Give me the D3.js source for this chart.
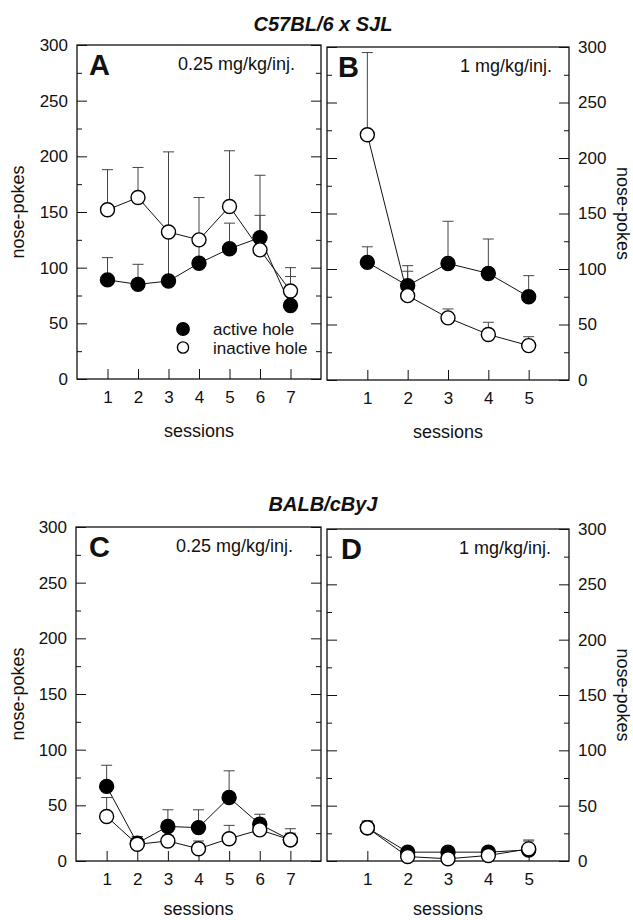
<!DOCTYPE html>
<html>
<head>
<meta charset="utf-8">
<script src="https://cdn.jsdelivr.net/npm/d3@7"></script>
<style>
  html, body { margin: 0; padding: 0; background: #fff; }
  svg { display: block; }
  text { font-family: "Liberation Sans", Arial, Helvetica, sans-serif; fill: #111; }
</style>
</head>
<body>
<div id="chart"></div>
<script>
// values (means and SEM, nose-pokes per session)
const sessions7 = [1, 2, 3, 4, 5, 6, 7]
const sessions5 = [1, 2, 3, 4, 5]

const activeA = [89, 85, 88, 104, 117, 127, 66]
const activeSemA = [20, 18, 116, 18, 23, 20, 26]
const inactiveA = [152, 163, 132, 125, 155, 116, 79]
const inactiveSemA = [36, 27, 4, 38, 50, 67, 21]

const activeB = [106, 85, 105, 96, 75]
const activeSemB = [14, 18, 38, 31, 19]
const inactiveB = [221, 76, 56, 41, 31]
const inactiveSemB = [74, 22, 8, 11, 8]

const activeC = [67, 16, 31, 30, 57, 33, 19]
const activeSemC = [19, 6, 15, 16, 24, 9, 6]
const inactiveC = [40, 15, 18, 11, 20, 28, 19]
const inactiveSemC = [17, 7, 5, 7, 12, 10, 10]

const activeD = [30, 8, 8, 8, 10]
const activeSemD = [6, 2, 2, 2, 8]
const inactiveD = [30, 4, 2, 5, 11]
const inactiveSemD = [6, 2, 2, 2, 8]

const yMajorTicks = [0, 50, 100, 150, 200, 250, 300]
const yMinorTicks = [25, 75, 125, 175, 225, 275]
const strainTitles = ['C57BL/6 x SJL', 'BALB/cByJ']
const doseLabels = ['0.25 mg/kg/inj.', '1 mg/kg/inj.']
const panelLetters = ['A', 'B', 'C', 'D']
const legendLabels = ['active hole', 'inactive hole']
const yLabel = 'nose-pokes'
const xLabel = 'sessions'

const width = 633
const height = 920

const svg = d3.select('#chart').append('svg')
  .attr('width', width)
  .attr('height', height)

const panels = [
  { letter: panelLetters[0], dose: doseLabels[0], sessions: sessions7, active: activeA, activeSem: activeSemA,
    inactive: inactiveA, inactiveSem: inactiveSemA, side: 'left',
    left: 77, right: 321, top: 45, bottom: 379, letterDx: 12, doseDx: 26, legend: true },
  { letter: panelLetters[1], dose: doseLabels[1], sessions: sessions5, active: activeB, activeSem: activeSemB,
    inactive: inactiveB, inactiveSem: inactiveSemB, side: 'right',
    left: 327, right: 569, top: 47, bottom: 380, letterDx: 11, doseDx: 17 },
  { letter: panelLetters[2], dose: doseLabels[0], sessions: sessions7, active: activeC, activeSem: activeSemC,
    inactive: inactiveC, inactiveSem: inactiveSemC, side: 'left',
    left: 76, right: 321, top: 527, bottom: 861, letterDx: 13, doseDx: 28 },
  { letter: panelLetters[3], dose: doseLabels[1], sessions: sessions5, active: activeD, activeSem: activeSemD,
    inactive: inactiveD, inactiveSem: inactiveSemD, side: 'right',
    left: 327, right: 569, top: 529, bottom: 861, letterDx: 14, doseDx: 18 }
]

// strain titles
svg.append('text')
  .attr('x', 323).attr('y', 31)
  .attr('text-anchor', 'middle')
  .attr('font-size', 20).attr('font-weight', 'bold').attr('font-style', 'italic')
  .text(strainTitles[0])

svg.append('text')
  .attr('x', 323).attr('y', 511)
  .attr('text-anchor', 'middle')
  .attr('font-size', 20).attr('font-weight', 'bold').attr('font-style', 'italic')
  .text(strainTitles[1])

function styleAxis(g) {
  g.select('.domain').remove()
  g.selectAll('.tick line').attr('stroke', '#111').attr('stroke-width', 1)
  g.selectAll('.tick text')
    .attr('font-size', 17)
    .attr('fill', '#111')
    .attr('font-family', '"Liberation Sans", Arial, sans-serif')
}

panels.forEach(p => {
  const x = d3.scaleLinear()
    .domain([0, p.sessions.length + 1])
    .range([p.left, p.right])
  const y = d3.scaleLinear()
    .domain([0, 300])
    .range([p.bottom, p.top])

  const g = svg.append('g')

  // y axes, ticks pointing inward on both sides
  const leftMajor = d3.axisLeft(y).tickValues(yMajorTicks).tickSize(-10).tickPadding(9)
  const rightMajor = d3.axisRight(y).tickValues(yMajorTicks).tickSize(-10).tickPadding(9)
  if (p.side === 'left') rightMajor.tickFormat('')
  else leftMajor.tickFormat('')

  g.append('g').attr('transform', `translate(${p.left},0)`).call(leftMajor).call(styleAxis)
  g.append('g').attr('transform', `translate(${p.right},0)`).call(rightMajor).call(styleAxis)
  g.append('g').attr('transform', `translate(${p.left},0)`)
    .call(d3.axisLeft(y).tickValues(yMinorTicks).tickSize(-5).tickFormat(''))
    .call(styleAxis)
  g.append('g').attr('transform', `translate(${p.right},0)`)
    .call(d3.axisRight(y).tickValues(yMinorTicks).tickSize(-5).tickFormat(''))
    .call(styleAxis)

  // x axis
  g.append('g').attr('transform', `translate(0,${p.bottom})`)
    .call(d3.axisBottom(x).tickValues(p.sessions).tickSize(-10).tickPadding(12).tickFormat(d3.format('d')))
    .call(styleAxis)

  // frame
  g.append('rect')
    .attr('x', p.left).attr('y', p.top)
    .attr('width', p.right - p.left).attr('height', p.bottom - p.top)
    .attr('fill', 'none').attr('stroke', '#111').attr('stroke-width', 1.3)

  // axis titles
  g.append('text')
    .attr('x', (p.left + p.right) / 2).attr('y', Math.min(p.bottom + 58, 915))
    .attr('text-anchor', 'middle').attr('font-size', 18)
    .text(xLabel)

  const midY = (p.top + p.bottom) / 2
  if (p.side === 'left') {
    g.append('text')
      .attr('transform', `translate(24,${midY}) rotate(-90)`)
      .attr('text-anchor', 'middle').attr('font-size', 18)
      .text(yLabel)
  } else {
    g.append('text')
      .attr('transform', `translate(617,${midY}) rotate(90)`)
      .attr('text-anchor', 'middle').attr('font-size', 18)
      .text(yLabel)
  }

  // panel letter and dose
  g.append('text')
    .attr('x', p.left + p.letterDx).attr('y', p.top + 30)
    .attr('font-size', 29).attr('font-weight', 'bold')
    .text(p.letter)

  g.append('text')
    .attr('x', p.right - p.doseDx).attr('y', p.top + 25)
    .attr('text-anchor', 'end').attr('font-size', 18)
    .text(p.dose)

  const series = [
    { values: p.active, sem: p.activeSem, fill: '#000' },
    { values: p.inactive, sem: p.inactiveSem, fill: '#fff' }
  ]

  // error bars (upper only) under everything
  series.forEach(s => {
    const eb = g.append('g').attr('stroke', '#444').attr('stroke-width', 1)
    eb.selectAll('line.stem')
      .data(p.sessions)
      .join('line')
      .attr('class', 'stem')
      .attr('x1', d => x(d)).attr('x2', d => x(d))
      .attr('y1', (d, i) => y(s.values[i]))
      .attr('y2', (d, i) => y(s.values[i] + s.sem[i]))
    eb.selectAll('line.cap')
      .data(p.sessions)
      .join('line')
      .attr('class', 'cap')
      .attr('x1', d => x(d) - 5.5).attr('x2', d => x(d) + 5.5)
      .attr('y1', (d, i) => y(s.values[i] + s.sem[i]))
      .attr('y2', (d, i) => y(s.values[i] + s.sem[i]))
  })

  const line = d3.line()
    .x(d => x(d[0]))
    .y(d => y(d[1]))

  series.forEach(s => {
    g.append('path')
      .datum(p.sessions.map((d, i) => [d, s.values[i]]))
      .attr('fill', 'none')
      .attr('stroke', '#111')
      .attr('stroke-width', 1)
      .attr('d', line)
  })

  series.forEach(s => {
    g.append('g').selectAll('circle')
      .data(p.sessions)
      .join('circle')
      .attr('cx', d => x(d))
      .attr('cy', (d, i) => y(s.values[i]))
      .attr('r', 7)
      .attr('fill', s.fill)
      .attr('stroke', '#000')
      .attr('stroke-width', 1.4)
  })

  if (p.legend) {
    const lg = g.append('g')
    legendLabels.forEach((label, i) => {
      lg.append('circle')
        .attr('cx', 183).attr('cy', 329 + i * 18.5)
        .attr('r', i === 0 ? 6.2 : 5.6)
        .attr('fill', i === 0 ? '#000' : '#fff')
        .attr('stroke', '#000').attr('stroke-width', 1.4)
      lg.append('text')
        .attr('x', 213).attr('y', 335 + i * 18.5)
        .attr('font-size', 17)
        .text(label)
    })
  }
})
</script>
</body>
</html>
